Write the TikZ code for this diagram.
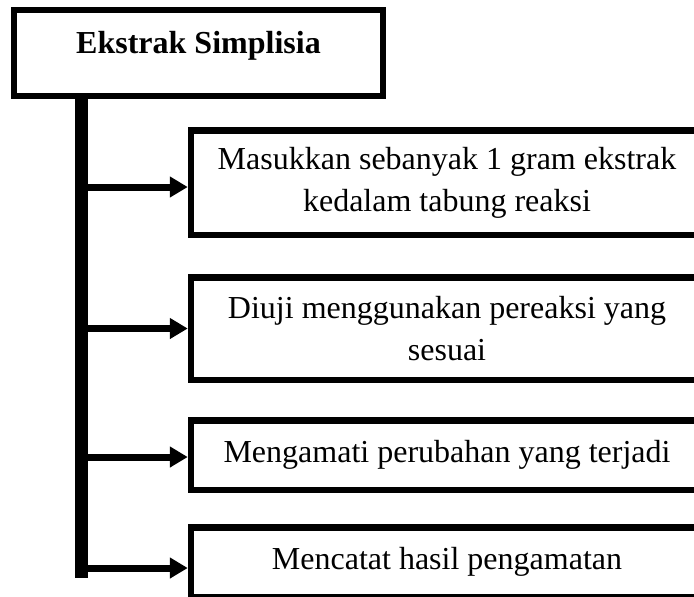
\documentclass[tikz,border=0pt]{standalone}
\usepackage{fontspec}
\setmainfont{Liberation Serif}
\usepackage{tikz}
\usetikzlibrary{calc,arrows.meta}

\begin{document}
\begin{tikzpicture}[x=0.5pt,y=-0.5pt,
    box/.style={draw,line width=3.25pt,fill=white,inner sep=0pt,align=center,
      font=\fontsize{16}{21}\selectfont,minimum width=256pt},
    link/.style={line width=3.5pt,-{Triangle[length=9pt,width=10pt]}}]
    \clip (0,0) rectangle (694,596);
    \node[box,minimum width=184.5pt,minimum height=43pt,text depth=11pt,font=\fontsize{16}{21}\selectfont\bfseries] (v0) at (198.5,53) {Ekstrak Simplisia};
    \node[box,minimum height=52.25pt] (v1) at (447,182.5) {Masukkan sebanyak 1 gram ekstrak\\kedalam tabung reaksi};
    \node[box,minimum height=51.25pt] (v2) at (447,328.5) {Diuji menggunakan pereaksi yang\\sesuai};
    \node[box,minimum height=34.75pt] (v3) at (447,455) {Mengamati perubahan yang terjadi};
    \node[box,minimum height=34.75pt] (v4) at (447,562) {Mencatat hasil pengamatan};
    \coordinate (vend) at (81.5,578);

    \draw[line width=6.5pt] (v0.south -| vend) -- (vend);
    \draw[link] ([yshift=-2.25pt]v1.west -| vend) -- ([yshift=-2.25pt]v1.west);
    \draw[link] (v2.west -| vend) -- (v2.west);
    \draw[link] ([yshift=-1pt]v3.west -| vend) -- ([yshift=-1pt]v3.west);
    \draw[link] ([yshift=-3pt]v4.west -| vend) -- ([yshift=-3pt]v4.west);
\end{tikzpicture}
\end{document}
